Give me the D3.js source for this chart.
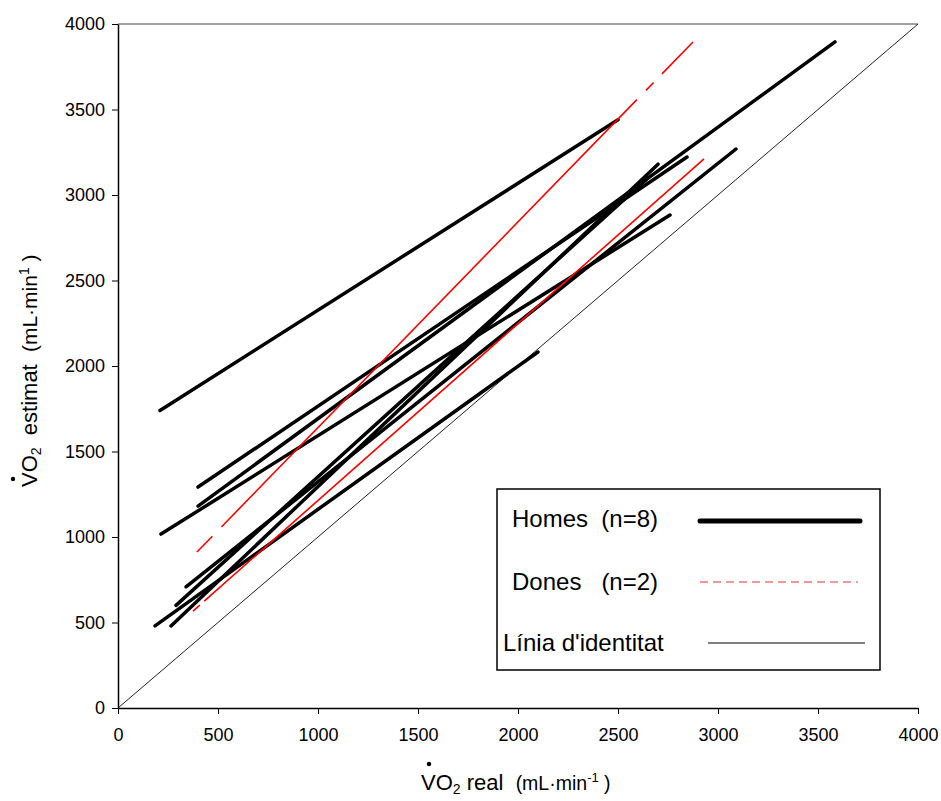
<!DOCTYPE html>
<html>
<head>
<meta charset="utf-8">
<script src="https://cdn.jsdelivr.net/npm/d3@7"></script>
<style>
  body { margin: 0; background: #fff; }
  svg { font-family: "Liberation Sans", Arial, sans-serif; }
  .axis path, .axis line { stroke: #000; }
  .axis text { font-size: 18px; fill: #000; }
</style>
</head>
<body>
<svg id="chart" width="941" height="801"></svg>
<script>
// values (mL·min-1)
var ticks = [0, 500, 1000, 1500, 2000, 2500, 3000, 3500, 4000];

// Homes: each subject drawn from first to last point [real, estimat]
var homes = [
  [[210, 1740], [2500, 3440]],
  [[215, 1017], [2760, 2883]],
  [[400, 1292], [2845, 3222]],
  [[400, 1181], [3585, 3895]],
  [[265, 480], [2700, 3180]],
  [[340, 708], [3090, 3269]],
  [[185, 480], [2100, 2082]],
  [[290, 600], [2650, 3100]]
];

// Dones
var dones = [
  [[395, 912], [2875, 3895]],
  [[375, 567], [2930, 3211]]
];
var donesDash = ['22,13,596,13,11,12,60', '9,6,2000'];

var identitat = [[0, 0], [4000, 4000]];

var legendLabels = ['Homes  (n=8)', 'Dones   (n=2)', "Línia d'identitat"];

var svg = d3.select('#chart');

var x = d3.scaleLinear().domain([0, 4000]).range([118, 918]),
    y = d3.scaleLinear().domain([0, 4000]).range([708, 24]);

var line = d3.line()
  .x(function(d) { return x(d[0]); })
  .y(function(d) { return y(d[1]); });

// top border of the plot area
svg.append('line')
  .attr('x1', x(0)).attr('x2', x(4000))
  .attr('y1', y(4000)).attr('y2', y(4000))
  .attr('stroke', '#808080').attr('stroke-width', 1.5);

svg.append('g')
  .attr('class', 'axis')
  .attr('transform', 'translate(0,' + y(0) + ')')
  .call(d3.axisBottom(x).tickValues(ticks).tickFormat(d3.format('d'))
    .tickSize(6).tickPadding(14).tickSizeOuter(0));

svg.append('g')
  .attr('class', 'axis')
  .attr('transform', 'translate(' + x(0) + ',0)')
  .call(d3.axisLeft(y).tickValues(ticks).tickFormat(d3.format('d'))
    .tickSize(6).tickPadding(7).tickSizeOuter(0));

svg.selectAll('.axis path').attr('stroke-width', 1.5);

// identity line
svg.append('path')
  .datum(identitat)
  .attr('d', line)
  .attr('fill', 'none')
  .attr('stroke', '#222')
  .attr('stroke-width', 1);

svg.selectAll('.homes')
  .data(homes)
  .enter().append('path')
    .attr('class', 'homes')
    .attr('d', line)
    .attr('fill', 'none')
    .attr('stroke', '#000')
    .attr('stroke-width', 3.5)
    .attr('stroke-linecap', 'round');

svg.selectAll('.dones')
  .data(dones)
  .enter().append('path')
    .attr('class', 'dones')
    .attr('d', line)
    .attr('fill', 'none')
    .attr('stroke', '#f00')
    .attr('stroke-width', 1.6)
    .attr('stroke-dasharray', function(d, i) { return donesDash[i]; });

// axis titles
var xt = svg.append('text')
  .attr('x', 421).attr('y', 790)
  .attr('font-size', 22)
  .style('white-space', 'pre');
xt.append('tspan').text('VO');
xt.append('tspan').attr('font-size', 14).attr('dy', 4).text('2');
xt.append('tspan').attr('dy', -4).text(' real  ');
xt.append('tspan').attr('font-size', 19.5).text('(mL·min');
xt.append('tspan').attr('font-size', 13).attr('dy', -8).text('-1');
xt.append('tspan').attr('font-size', 19.5).attr('dy', 8).text(' )');
svg.append('circle').attr('cx', 429).attr('cy', 764).attr('r', 2.2).attr('fill', '#000');

var yt = svg.append('text')
  .attr('transform', 'translate(37,487) rotate(-90)')
  .attr('font-size', 22)
  .style('white-space', 'pre');
yt.append('tspan').text('VO');
yt.append('tspan').attr('font-size', 14).attr('dy', 4).text('2');
yt.append('tspan').attr('dy', -4).text('  estimat  ');
yt.append('tspan').attr('font-size', 21).text('(mL·min');
yt.append('tspan').attr('font-size', 14).attr('dy', -8).text('1');
yt.append('tspan').attr('font-size', 21).attr('dy', 8).text(' )');
svg.append('circle').attr('cx', 13).attr('cy', 479).attr('r', 2.2).attr('fill', '#000');

// legend
var legend = svg.append('g').attr('transform', 'translate(497,489)');
legend.append('rect')
  .attr('width', 383).attr('height', 181)
  .attr('fill', '#fff').attr('stroke', '#000').attr('stroke-width', 1.5);

var legendTextX = [15, 15, 6],
    legendLine = [[203, 363], [203, 361], [211, 368]],
    legendStyle = [
      {stroke: '#000', width: 5, dash: null},
      {stroke: '#e8322f', width: 1.2, dash: '8,5'},
      {stroke: '#000', width: 1, dash: null}
    ];

legendLabels.forEach(function(lab, i) {
  var cy = 32 + i * 61;
  legend.append('text')
    .attr('x', legendTextX[i]).attr('y', cy + 6 + (i === 0 ? 0 : 2))
    .attr('font-size', 24)
    .style('white-space', 'pre')
    .text(lab);
  legend.append('line')
    .attr('x1', legendLine[i][0]).attr('x2', legendLine[i][1])
    .attr('y1', cy).attr('y2', cy)
    .attr('stroke', legendStyle[i].stroke)
    .attr('stroke-width', legendStyle[i].width)
    .attr('stroke-linecap', i === 0 ? 'round' : 'butt')
    .attr('stroke-dasharray', legendStyle[i].dash);
});
</script>
</body>
</html>
